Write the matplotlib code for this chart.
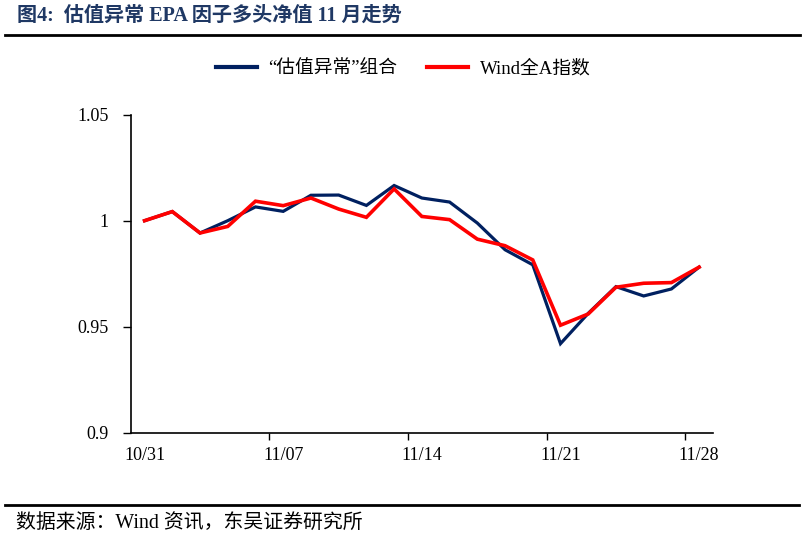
import matplotlib
matplotlib.use("Agg")
import matplotlib.pyplot as plt
from matplotlib.lines import Line2D

plt.rcParams['font.family'] = ['Liberation Serif', 'Noto Sans CJK SC']

dates = ["10/31", "11/01", "11/02", "11/03", "11/04", "11/07", "11/08", "11/09", "11/10",
         "11/11", "11/14", "11/15", "11/16", "11/17", "11/18", "11/21", "11/22", "11/23",
         "11/24", "11/25", "11/28"]
portfolio = [1.0000, 1.0043, 0.9942, 1.0000, 1.0065, 1.0044, 1.0120, 1.0121, 1.0072,
             1.0166, 1.0107, 1.0088, 0.9989, 0.9863, 0.9792, 0.9420, 0.9563, 0.9689,
             0.9645, 0.9678, 0.9781]
wind_a = [1.0000, 1.0043, 0.9942, 0.9973, 1.0092, 1.0071, 1.0107, 1.0055, 1.0016,
          1.0150, 1.0020, 1.0005, 0.9913, 0.9882, 0.9815, 0.9507, 0.9560, 0.9686,
          0.9705, 0.9708, 0.9781]
series_names = ["“估值异常”组合", "Wind全A指数"]
yticks = [0.9, 0.95, 1.0, 1.05]
ytick_labels = ["0.9", "0.95", "1", "1.05"]
title = "图4:  估值异常 EPA 因子多头净值 11 月走势"
source = "数据来源：Wind 资讯，东吴证券研究所"

W, H = 805, 538
fig = plt.figure(figsize=(W / 100, H / 100), dpi=100)
ax = fig.add_axes([130.7 / W, 1 - 432.7 / H, (713 - 130.7) / W, (432.7 - 114.7) / H])

blue = '#002060'
red = '#FF0000'
x = list(range(len(dates)))
ax.plot(x, portfolio, color=blue, lw=2.3, solid_joinstyle='miter', zorder=3)
ax.plot(x, wind_a, color=red, lw=2.6, solid_joinstyle='miter', zorder=4)

ax.set_xlim(-0.5, len(dates) - 0.5)
ax.set_ylim(0.9, 1.05)
ax.set_yticks(yticks)
ax.set_yticklabels(ytick_labels, fontsize=13)
ax.tick_params(axis='y', direction='out', length=6, width=1, pad=10, colors='black')

# major ticks at category boundaries, labels at categories
boundary = [i - 0.5 for i in range(5, len(dates), 5)]
ax.set_xticks(boundary)
ax.set_xticklabels([])
ax.tick_params(axis='x', which='major', direction='out', length=5, width=1)
label_pos = list(range(0, len(dates), 5))
ax.set_xticks(label_pos, minor=True)
ax.set_xticklabels([dates[i] for i in label_pos], minor=True, fontsize=13)
ax.tick_params(axis='x', which='minor', length=0, pad=10)

for s in ['top', 'right']:
    ax.spines[s].set_visible(False)
for s in ['left', 'bottom']:
    ax.spines[s].set_linewidth(1.2)
    ax.spines[s].set_color('black')

handles = [Line2D([], [], color=blue, lw=3), Line2D([], [], color=red, lw=3)]
fig.legend(handles, series_names, loc='center', bbox_to_anchor=(403 / W, 1 - 69 / H),
           ncol=2, frameon=False, fontsize=13.5, handlelength=2.2, handletextpad=0.6,
           columnspacing=1.6)

fig.text(17 / W, 1 - 16 / H, title, fontsize=14.5, fontweight='bold', color='#1F3864',
         va='center', ha='left')
fig.add_artist(Line2D([5 / W, 800 / W], [1 - 35 / H, 1 - 35 / H], color='black', lw=2))
fig.add_artist(Line2D([5 / W, 799 / W], [1 - 505 / H, 1 - 505 / H], color='black', lw=2))
fig.text(16 / W, 1 - 523 / H, source, fontsize=14.3, va='center', ha='left', color='black')

fig.savefig('out.png', dpi=100)
